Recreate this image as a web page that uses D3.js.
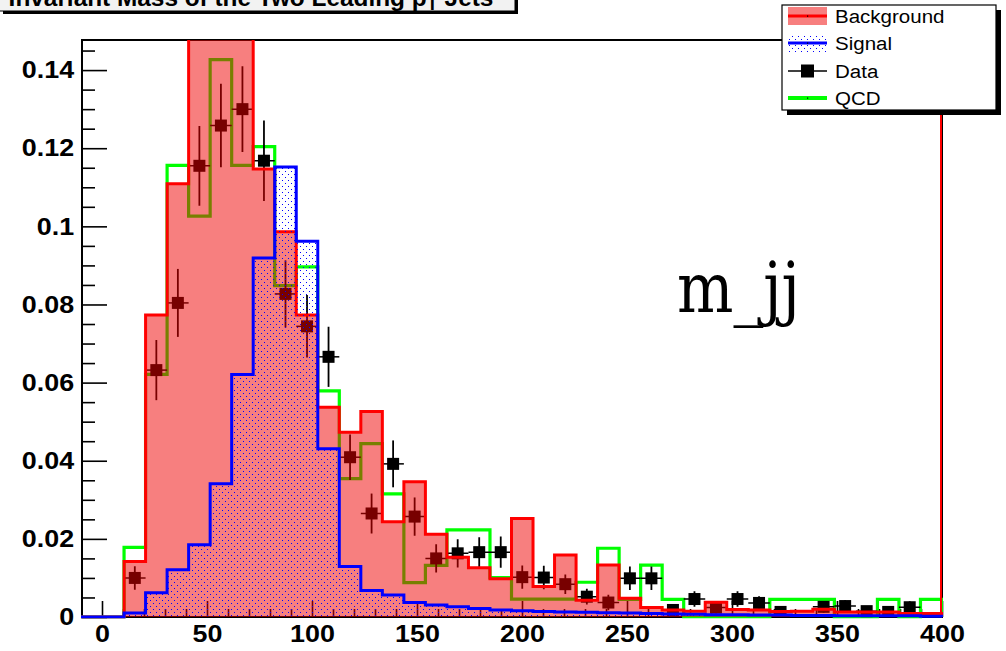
<!DOCTYPE html>
<html><head><meta charset="utf-8">
<script src="https://cdn.jsdelivr.net/npm/d3@7"></script>
<style>html,body{margin:0;padding:0;background:#fff;}svg{display:block}</style>
</head><body>
<svg id="c" width="1006" height="651"></svg>
<script>
// Histogram binning: 40 bins of m_jj
const binLow = -10, binHigh = 400, nBins = 40;

const background = [0, 0, 0.0142, 0.0773, 0.1109, 0.165, 0.178, 0.160, 0.1147, 0.0986,
  0.0773, 0.0537, 0.0473, 0.0526, 0.0244, 0.0346, 0.0212, 0.0153, 0.0126, 0.0098,
  0.0252, 0.0078, 0.0159, 0.0043, 0.0133, 0.0048, 0.0024, 0.0018, 0.0015, 0.0038,
  0.0019, 0.0018, 0.0014, 0.0015, 0.0020, 0.0013, 0.0013, 0.0013, 0.0009, 0.0009];

const signal = [0, 0, 0.0010, 0.0062, 0.0121, 0.0185, 0.0341, 0.0621, 0.0919, 0.1152,
  0.0962, 0.0431, 0.0129, 0.0068, 0.0056, 0.0037, 0.0031, 0.0026, 0.0022, 0.0018,
  0.0016, 0.0014, 0.0013, 0.0012, 0.0011, 0.0010, 0.0009, 0.0008, 0.0007, 0.0006,
  0.0006, 0.0005, 0.0005, 0.0004, 0.0004, 0.0003, 0.0003, 0.0003, 0.0003, 0.0002];

const qcd = [0, 0, 0.0178, 0.0621, 0.1156, 0.1026, 0.1427, 0.1156, 0.1204, 0.0848,
  0.0896, 0.0579, 0.0354, 0.0444, 0.0315, 0.0088, 0.0132, 0.0223, 0.0223, 0.0101,
  0.0046, 0.0046, 0.0046, 0.0089, 0.0176, 0.0045, 0.0133, 0.0045, 0, 0,
  0, 0, 0.0045, 0.0045, 0.0045, 0, 0, 0.0045, 0, 0.0045];

const data = [0, 0, 0.0100, 0.0632, 0.0804, 0.1155, 0.1258, 0.1300, 0.1168, 0.0827,
  0.0744, 0.0666, 0.0409, 0.0265, 0.0392, 0.0257, 0.0150, 0.0163, 0.0166, 0.0166,
  0.0102, 0.0101, 0.0084, 0.0052, 0.0037, 0.0099, 0.0099, 0.0018, 0.0046, 0.0024,
  0.0046, 0.0036, 0.0013, 0, 0.0026, 0.0028, 0.0015, 0.0013, 0.0025, 0];

const dataErr = [0, 0, 0.0030, 0.0077, 0.0087, 0.0102, 0.0107, 0.0110, 0.0103, 0.0086,
  0.0080, 0.0077, 0.0058, 0.0051, 0.0060, 0.0049, 0.0036, 0.0036, 0.0038, 0.0040,
  0.0030, 0.0030, 0.0025, 0.0020, 0.0020, 0.0030, 0.0030, 0.0012, 0.0020, 0.0015,
  0.0020, 0.0017, 0.0012, 0, 0.0015, 0.0015, 0.0012, 0.0012, 0.0015, 0];

const yMax = 0.1477;
const yTicksMajor = [0, 0.02, 0.04, 0.06, 0.08, 0.1, 0.12, 0.14];
const xTicksMajor = [0, 50, 100, 150, 200, 250, 300, 350, 400];
const legendLabels = ["Background", "Signal", "Data", "QCD"];
const titleMain = "Invariant Mass of the Two Leading p";
const titleSub = "T";
const titleTail = " Jets";
const varLabel = "m_jj";

const RED = "#ff0000", BLUE = "#0000ff", GREEN = "#00ff00";
const BKG_FILL = "rgba(240,0,0,0.5)";
const svg = d3.select("#c");
svg.append("rect").attr("width", 1006).attr("height", 651).attr("fill", "#fff");

const defs = svg.append("defs");
// sparse blue dot pattern for the signal fill
const ps = defs.append("pattern").attr("id", "sigPat").attr("patternUnits", "userSpaceOnUse")
  .attr("width", 6).attr("height", 6);
ps.append("rect").attr("x", 0).attr("y", 0).attr("width", 1).attr("height", 1)
  .attr("fill", BLUE).attr("shape-rendering", "crispEdges");
ps.append("rect").attr("x", 3).attr("y", 3).attr("width", 1).attr("height", 1)
  .attr("fill", BLUE).attr("shape-rendering", "crispEdges");

const x = d3.scaleLinear().domain([binLow, binHigh]).range([81, 942]);
const y = d3.scaleLinear().domain([0, yMax]).range([617, 40]);
const edges = d3.range(nBins + 1).map(i => binLow + i * (binHigh - binLow) / nBins);

defs.append("clipPath").attr("id", "plotClip").append("rect")
  .attr("x", x(binLow)).attr("y", y(yMax)).attr("width", x(binHigh) - x(binLow) + 1)
  .attr("height", y(0) - y(yMax) + 1.5);

// ---- title pave (mostly above the canvas edge) ----
svg.append("rect").attr("x", 3).attr("y", -30).attr("width", 515).attr("height", 44).attr("fill", "#000");
svg.append("rect").attr("x", -2).attr("y", -30).attr("width", 517).attr("height", 41)
  .attr("fill", "#f2f2f2").attr("stroke", "#000").attr("stroke-width", 1);
const title = svg.append("text").attr("x", 251).attr("y", 6).attr("text-anchor", "middle")
  .attr("font-family", "Liberation Sans, Arial, sans-serif").attr("font-weight", "bold")
  .attr("font-size", 22).attr("fill", "#000");
title.append("tspan").text(titleMain);
title.append("tspan").attr("font-size", "75%").attr("dy", 4).text(titleSub);
title.append("tspan").attr("dy", -4).text(titleTail);
const tw = title.node().getComputedTextLength();
title.attr("font-size", 22 * 485 / tw);

// ---- axes ----
const labelFont = "Liberation Sans, Arial, Helvetica, sans-serif";
function styleLabels(g) {
  g.select(".domain").remove();
  g.selectAll(".tick line").attr("stroke", "#000").attr("stroke-width", 1.6);
  g.selectAll(".tick text").attr("font-family", labelFont).attr("font-weight", "bold")
    .attr("font-size", 24).attr("fill", "#000").attr("transform", "scale(1.12,1)");
}
const yMinor = d3.range(0, yMax, 0.005).filter(v => !yTicksMajor.some(t => Math.abs(t - v) < 1e-9));
svg.append("g").attr("transform", "translate(82,0)")
  .call(d3.axisLeft(y).tickValues(yMinor).tickSize(-13).tickFormat("")).call(styleLabels);
svg.append("g").attr("transform", "translate(82,0)")
  .call(d3.axisLeft(y).tickValues(yTicksMajor).tickSize(-25).tickPadding(7)
    .tickFormat(d => d === 0 ? "0" : String(+d.toFixed(2)))).call(styleLabels);

const xMinor = d3.range(0, binHigh, 10).filter(v => v % 50 !== 0);
svg.append("g").attr("transform", "translate(0,617)")
  .call(d3.axisBottom(x).tickValues(xMinor).tickSize(-8).tickFormat("")).call(styleLabels);
svg.append("g").attr("transform", "translate(0,617)")
  .call(d3.axisBottom(x).tickValues(xTicksMajor).tickSize(-16).tickPadding(8).tickFormat(d3.format("d")))
  .call(styleLabels);

// ---- frame ----
svg.append("rect").attr("x", 82).attr("y", 40).attr("width", 860).attr("height", 577)
  .attr("fill", "none").attr("stroke", "#000").attr("stroke-width", 2);

// ---- histograms ----
function stepPoints(vals) {
  const pts = [[edges[0], 0]];
  vals.forEach((v, i) => { pts.push([edges[i], v]); pts.push([edges[i + 1], v]); });
  pts.push([edges[nBins], 0]);
  return pts;
}
const stepLine = d3.line().x(d => x(d[0])).y(d => y(d[1]));
const plot = svg.append("g").attr("clip-path", "url(#plotClip)");

// QCD outline
plot.append("path").attr("d", stepLine(stepPoints(qcd))).attr("fill", "none")
  .attr("stroke", GREEN).attr("stroke-width", 3.2).attr("stroke-linejoin", "miter");

// data points with error bars
const pts = plot.append("g");
data.forEach((v, i) => {
  if (v <= 0 && dataErr[i] <= 0) return;
  const cx = x((edges[i] + edges[i + 1]) / 2);
  pts.append("line").attr("x1", cx).attr("x2", cx).attr("y1", y(v - dataErr[i])).attr("y2", y(v + dataErr[i]))
    .attr("stroke", "#000").attr("stroke-width", 1.8);
  pts.append("line").attr("x1", x(edges[i])).attr("x2", x(edges[i + 1])).attr("y1", y(v)).attr("y2", y(v))
    .attr("stroke", "#000").attr("stroke-width", 1.5);
  pts.append("rect").attr("x", cx - 6).attr("y", y(v) - 6).attr("width", 12).attr("height", 12).attr("fill", "#000");
});

// background: translucent fill + outline
const bkgPath = stepLine(stepPoints(background));
plot.append("path").attr("d", bkgPath + "Z").attr("fill", BKG_FILL).attr("stroke", "none");
plot.append("path").attr("d", bkgPath).attr("fill", "none").attr("stroke", RED).attr("stroke-width", 3);
plot.append("line").attr("x1", x(binHigh) - 1).attr("x2", x(binHigh) - 1).attr("y1", y(yMax)).attr("y2", y(0))
  .attr("stroke", RED).attr("stroke-width", 2);

// signal: dotted fill + outline
const sigPath = stepLine(stepPoints(signal));
plot.append("path").attr("d", sigPath + "Z").attr("fill", "url(#sigPat)").attr("stroke", "none");
plot.append("path").attr("d", sigPath).attr("fill", "none").attr("stroke", BLUE).attr("stroke-width", 3);

// ---- variable label ----
svg.append("text").attr("transform", "translate(677,312) scale(0.85,1)")
  .attr("font-family", "DejaVu Serif, serif").attr("font-size", 70).attr("fill", "#000").text(varLabel);

// ---- legend ----
const lg = svg.append("g");
lg.append("rect").attr("x", 787).attr("y", 10).attr("width", 214).attr("height", 105).attr("fill", "#000");
lg.append("rect").attr("x", 782).attr("y", 5).attr("width", 214).attr("height", 105)
  .attr("fill", "#fff").attr("stroke", "#000").attr("stroke-width", 1.2);
const rowY = [16, 43, 71, 98];
const sx0 = 788, sx1 = 827, sxm = 807.5;
// Background
lg.append("rect").attr("x", sx0).attr("y", rowY[0] - 9).attr("width", sx1 - sx0).attr("height", 18).attr("fill", BKG_FILL);
lg.append("line").attr("x1", sx0).attr("x2", sx1).attr("y1", rowY[0]).attr("y2", rowY[0]).attr("stroke", RED).attr("stroke-width", 3);
// Signal
lg.append("rect").attr("x", sx0).attr("y", rowY[1] - 9).attr("width", sx1 - sx0).attr("height", 18).attr("fill", "url(#sigPat)");
lg.append("line").attr("x1", sx0).attr("x2", sx1).attr("y1", rowY[1]).attr("y2", rowY[1]).attr("stroke", BLUE).attr("stroke-width", 3);
// Data
lg.append("line").attr("x1", sx0).attr("x2", sx1).attr("y1", rowY[2]).attr("y2", rowY[2]).attr("stroke", "#000").attr("stroke-width", 1.5);
lg.append("rect").attr("x", sxm - 6.5).attr("y", rowY[2] - 6.5).attr("width", 13).attr("height", 13).attr("fill", "#000");
// QCD
lg.append("line").attr("x1", sx0).attr("x2", sx1).attr("y1", rowY[3]).attr("y2", rowY[3]).attr("stroke", GREEN).attr("stroke-width", 4);
[0, 1, 3].forEach(k => lg.append("rect").attr("x", sxm - 0.5).attr("y", rowY[k] - 0.5).attr("width", 1.2).attr("height", 1.2).attr("fill", "#000"));
legendLabels.forEach((t, k) => {
  lg.append("text").attr("transform", `translate(835,${rowY[k] + 7}) scale(1.08,1)`)
    .attr("font-family", labelFont).attr("font-size", 19).attr("fill", "#000").text(t);
});
</script>
</body></html>
